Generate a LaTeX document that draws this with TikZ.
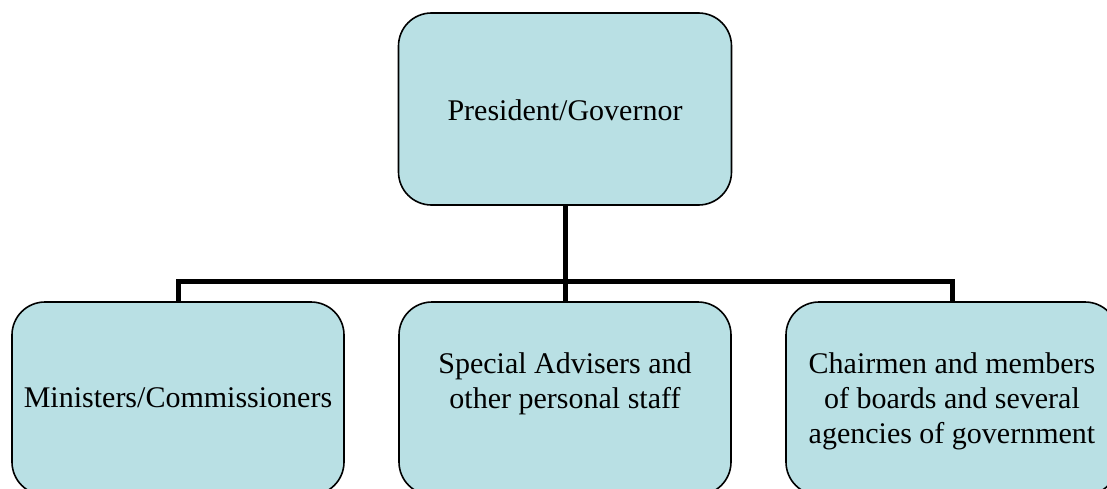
\documentclass[tikz,border=0pt]{standalone}
\usepackage{fontspec}
\setmainfont{Liberation Serif}
\definecolor{boxfill}{RGB}{185,224,228}
\tikzset{
  orgbox/.style={draw=black, line width=1.2pt, fill=boxfill, rounded corners=24.75pt,
    minimum width=249pt, minimum height=144.75pt, inner sep=0pt},
  orgtext/.style={align=center, inner sep=0pt, text=black,
    font=\fontsize{22.5pt}{26.25pt}\selectfont},
  conn/.style={draw=black, line width=3.75pt, line join=miter}
}
\begin{document}
\begin{tikzpicture}[x=0.75pt,y=-0.75pt]
\useasboundingbox (0,0) rectangle (1107,489);
\clip (0,0) rectangle (1107,489);
\coordinate (bus) at (565,281);
% boxes
\node[orgbox, minimum width=249.75pt, minimum height=144pt] (top) at (565,109) {};
\node[orgbox] (left) at (178,398.5) {};
\node[orgbox] (mid) at (565,398.5) {};
\node[orgbox] (right) at (952,398.5) {};
% texts
\node[orgtext] (toptext) at (565,110) {President/Governor};
\node[orgtext] (lefttext) at (178,398) {Ministers/Commissioners};
\node[orgtext] (midtext) at (565,383.5) {Special Advisers and\\other personal staff};
\node[orgtext] (righttext) at (952,401) {Chairmen and members\\of boards and several\\agencies of government};
% connectors
\draw[conn] (top.south) -- (mid.north);
\draw[conn] (left.north) |- (bus) -| (right.north);
\end{tikzpicture}
\end{document}
